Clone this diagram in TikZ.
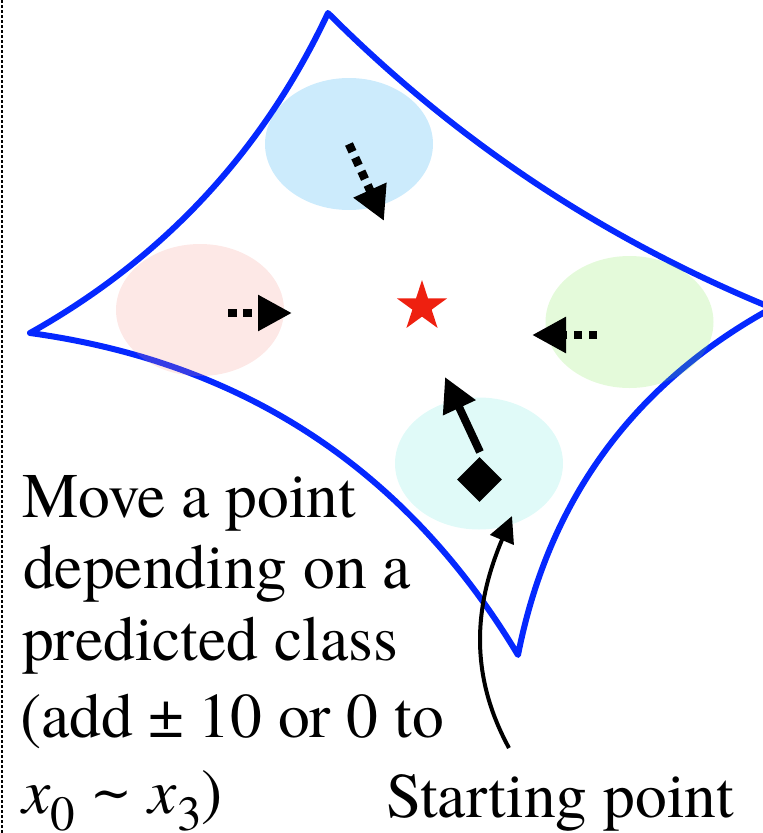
\documentclass[tikz,border=0pt]{standalone}
\usepackage{fontspec}
\setmainfont{TeX Gyre Termes}
\newfontfamily\timesfont{TeX Gyre Termes}
\newfontfamily\symfont{DejaVu Serif}
\usetikzlibrary{arrows.meta,shapes.geometric}
\definecolor{shapeblue}{RGB}{5,40,255}
\definecolor{regblue}{RGB}{0,155,240}
\definecolor{regred}{RGB}{245,140,130}
\definecolor{reggreen}{RGB}{120,230,70}
\definecolor{regcyan}{RGB}{100,230,220}
\definecolor{starred}{RGB}{238,32,16}
\tikzset{
  region/.style={ellipse, inner sep=0pt, minimum width=168pt, minimum height=132pt, fill opacity=0.2},
  boundary/.style={draw=shapeblue, line width=6pt, line join=round, line cap=round},
  dotarrow/.style={line width=8.5pt, dash pattern=on 8.5pt off 6.5pt, -{Triangle[length=34pt,width=34pt]}},
  solidarrow/.style={line width=8pt, -{Triangle[length=34pt,width=34pt]}},
  curvearrow/.style={line width=4pt, -{Triangle[length=26pt,width=25pt]}},
  textlabel/.style={anchor=base west, inner sep=0pt, font=\timesfont\fontsize{63.5}{70}\selectfont}
}
\begin{document}
\begin{tikzpicture}[x=1pt,y=-1pt]
\useasboundingbox (0,0) rectangle (763,833);
% left dotted border
\coordinate (bt) at (2,0);
\coordinate (bb) at (2,833);
\draw[line width=2.5pt, dash pattern=on 2.5pt off 2.5pt] (bt) -- (bb);
% blue boundary
\coordinate (vt) at (328,13);
\coordinate (vr) at (772,308);
\coordinate (vb) at (518,655);
\coordinate (vl) at (30,333);
\draw[boundary] (vt) .. controls (456,141) and (604,239.3) .. (vr)
  .. controls (633.3,384) and (548.7,499.7) .. (vb)
  .. controls (406.7,469.7) and (244,362.3) .. (vl)
  .. controls (163.3,258.3) and (262.7,151.7) .. (vt) -- cycle;
% regions
\node[region, fill=regblue] (rb) at (349,144) {};
\node[region, fill=regred] (rr) at (200,310) {};
\node[region, fill=reggreen] (rg) at (629.5,322) {};
\node[region, fill=regcyan] (rc) at (479,463.5) {};
% goal star
\node[star, star points=5, star point ratio=2.618, fill=starred, inner sep=0pt, minimum size=53pt] (goal) at (422,306.5) {};
% starting diamond
\node[diamond, fill=black, inner sep=0pt, minimum width=45pt, minimum height=45pt] (start) at (479.5,479.5) {};
% arrows
\coordinate (ab0) at (349,144);
\coordinate (ab1) at (384,221);
\draw[dotarrow] (ab0) -- (ab1);
\coordinate (ar0) at (228,313);
\coordinate (ar1) at (292,313);
\draw[dotarrow] (ar0) -- (ar1);
\coordinate (ag0) at (597,335);
\coordinate (ag1) at (532,335);
\draw[dotarrow] (ag0) -- (ag1);
\coordinate (as0) at (480,452);
\coordinate (as1) at (445,377);
\draw[solidarrow] (as0) -- (as1);
% labels
\node[textlabel] (t1) at (22,517) {Move a point};
\node[textlabel] (t2) at (23,588) {depending on a};
\node[textlabel] (t3) at (22,660) {predicted class};
\node[textlabel] (t4) at (20,737) {(add ±\hspace{14pt}10 or 0 to};
\node[textlabel] (t5) at (22,813) {\textit{x}\raisebox{-17pt}{\fontsize{49}{49}\selectfont 0} {\symfont\fontsize{50}{50}\selectfont\raisebox{3pt}{∼}} \textit{x}\raisebox{-17pt}{\fontsize{49}{49}\selectfont 3})};
\node[textlabel] (sp) at (386,817) {Starting point};
\coordinate (c0) at (509,748);
\coordinate (c1) at (512,516);
\draw[curvearrow] (c0) .. controls (466,669) and (477,599) .. (c1);
\end{tikzpicture}
\end{document}
